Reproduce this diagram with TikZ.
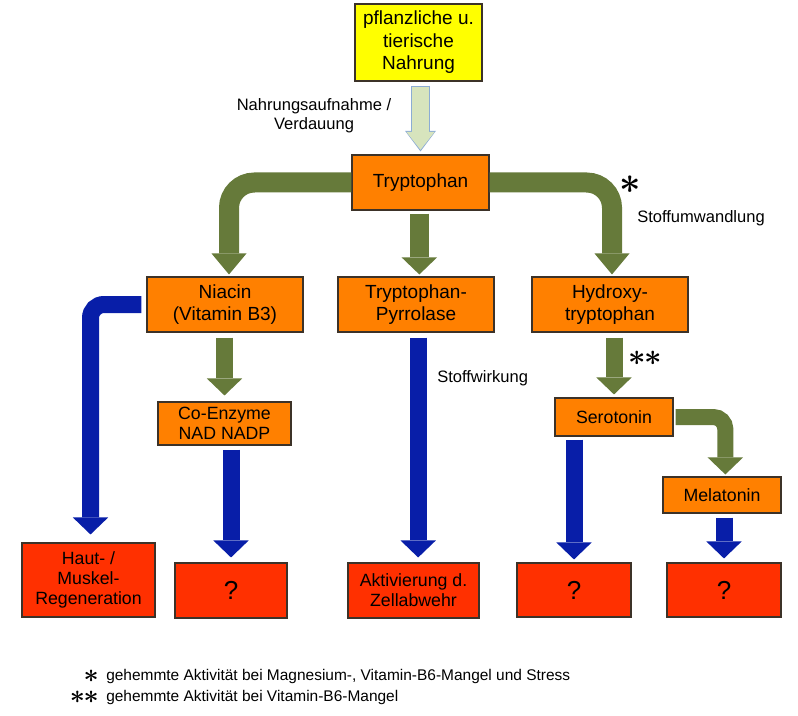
\documentclass[tikz,border=0pt]{standalone}
\usepackage{bm}
\usepackage{fontspec}
\setmainfont{Liberation Sans}
\usetikzlibrary{arrows.meta}

\definecolor{foodyellow}{RGB}{255,255,0}
\definecolor{boxorange}{RGB}{255,128,0}
\definecolor{boxred}{RGB}{255,48,0}
\definecolor{arrowgreen}{RGB}{102,122,58}
\definecolor{arrowblue}{RGB}{8,30,168}
\definecolor{palegreen}{RGB}{215,228,189}
\definecolor{paleblue}{RGB}{140,172,212}
\definecolor{boxline}{RGB}{60,50,40}

\newcommand\bigtxt{\fontsize{14.25pt}{16.9pt}\selectfont}
\newcommand\smalltxt{\fontsize{13.3pt}{15pt}\selectfont}
\newcommand\lbltxt{\fontsize{12.4pt}{14pt}\selectfont}
\newcommand\foottxt{\fontsize{11.6pt}{14pt}\selectfont}
\newcommand\qtxt{\fontsize{19.5pt}{20pt}\selectfont}
\newcommand\markstar[1]{\scalebox{#1}{\huge$\bm{\ast}$}}

\tikzset{
  box/.style={draw=boxline, line width=0.8pt, inner sep=0pt, align=center},
  orangebox/.style={box, fill=boxorange},
  redbox/.style={box, fill=boxred},
  lbl/.style={inner sep=0pt, font=\lbltxt, align=center},
  starmark/.style={inner sep=0pt, text depth=0pt, text height=#1},
  greenarrow/.style={draw=arrowgreen},
  bluearrow/.style={draw=arrowblue},
  bigarrow/.style={line width=15pt, -{Triangle[length=15.75pt,width=26.25pt,line width=0pt]}},
  fatarrow/.style={line width=12.75pt, -{Triangle[length=12.75pt,width=26.5pt,line width=0pt]}}
}

\begin{document}
\begin{tikzpicture}[x=0.75pt,y=0.75pt,yscale=-1,xscale=1]
\useasboundingbox (0,0) rectangle (798,716);

%Shape: Rectangle [food]
\node[box, fill=foodyellow, font=\bigtxt, minimum width=95.25pt, minimum height=57.75pt] (food) at (418.5,42.5) {pflanzliche u.\\tierische\\Nahrung};
%Shape: Rectangle [first row]
\node[orangebox, font=\bigtxt, minimum width=102.75pt, minimum height=41.25pt] (tryp) at (420.5,182.5) {Tryptophan};
\node[orangebox, font=\bigtxt, minimum width=117pt, minimum height=41.25pt] (niacin) at (225,304.5) {Niacin\\(Vitamin B3)};
\node[orangebox, font=\bigtxt, minimum width=117pt, minimum height=41.25pt] (pyrrol) at (416,304.5) {Tryptophan-\\Pyrrolase};
\node[orangebox, font=\bigtxt, minimum width=117pt, minimum height=41.25pt] (hydroxy) at (610,304.5) {Hydroxy-\\tryptophan};
%Shape: Rectangle [second row]
\node[orangebox, font=\smalltxt, minimum width=99.75pt, minimum height=32.25pt] (coenz) at (224.5,423.5) {Co-Enzyme\\NAD NADP};
\node[orangebox, font=\smalltxt, minimum width=88.5pt, minimum height=28.5pt] (sero) at (614,417) {Serotonin};
\node[orangebox, font=\smalltxt, minimum width=88.5pt, minimum height=27pt] (mela) at (722,495) {Melatonin};
%Shape: Rectangle [effects]
\node[redbox, font=\smalltxt, minimum width=99.75pt, minimum height=55.5pt] (haut) at (88.5,580) {Haut- /\\Muskel-\\Regeneration};
\node[redbox, font=\qtxt, minimum width=84pt, minimum height=41.25pt] (qnad) at (231,590.5) {?};
\node[redbox, font=\smalltxt, minimum width=98.25pt, minimum height=41.25pt] (aktiv) at (413.5,590.5) {Aktivierung d.\\Zellabwehr};
\node[redbox, font=\qtxt, minimum width=85.5pt, minimum height=40.5pt] (qsero) at (574,590) {?};
\node[redbox, font=\qtxt, minimum width=85.5pt, minimum height=40.5pt] (qmela) at (724,590) {?};

%Arrow: intake
\draw[paleblue, line width=14.25pt, -{Triangle[length=15.5pt,width=23.25pt,line width=0pt]}, shorten <=3pt, shorten >=2.25pt] (tryp.north |- food.south) -- (tryp.north);
\draw[palegreen, line width=12.75pt, -{Triangle[length=13.5pt,width=21.25pt,line width=0pt]}, shorten <=3.75pt, shorten >=3.5pt] (tryp.north |- food.south) -- (tryp.north);

%Arrows: conversion (green)
\draw[greenarrow, bigarrow, rounded corners=19pt, shorten >=1.5pt] (tryp.west) -| ([xshift=3pt]niacin.north);
\draw[greenarrow, bigarrow, rounded corners=19pt, shorten >=1.5pt] (tryp.east) -| ([xshift=1.5pt]hydroxy.north);
\draw[greenarrow, fatarrow, line width=14.25pt, shorten <=2.25pt, shorten >=1.5pt] ([xshift=2.5pt]pyrrol.north |- tryp.south) -- ([xshift=2.5pt]pyrrol.north);
\draw[greenarrow, fatarrow, shorten <=3.75pt, shorten >=4.5pt] (coenz.north |- niacin.south) -- (coenz.north);
\draw[greenarrow, fatarrow, shorten <=3.75pt, shorten >=2.25pt] (sero.north |- hydroxy.south) -- (sero.north);
\draw[greenarrow, fatarrow, line width=12pt, rounded corners=9pt, shorten <=1.5pt, shorten >=1.5pt] (sero.east) -| ([xshift=2.5pt]mela.north);

%Arrows: effect (blue)
\draw[bluearrow, fatarrow, rounded corners=10pt, shorten <=3.75pt, shorten >=6pt] (niacin.west) -| ([xshift=1.5pt]haut.north);
\draw[bluearrow, fatarrow, shorten <=3pt, shorten >=3.75pt] (qnad.north |- coenz.south) -- (qnad.north);
\draw[bluearrow, fatarrow, shorten <=3.75pt, shorten >=3.75pt] ([xshift=3.5pt]aktiv.north |- pyrrol.south) -- ([xshift=3.5pt]aktiv.north);
\draw[bluearrow, fatarrow, shorten <=2.25pt, shorten >=2.25pt] (qsero.north |- sero.south) -- (qsero.north);
\draw[bluearrow, fatarrow, shorten <=3pt, shorten >=3pt] (qmela.north |- mela.south) -- (qmela.north);

% Text Node
\node[lbl] (intake) at (314,116) {Nahrungsaufnahme /\\Verdauung};
% Text Node
\node[lbl, anchor=west] (conv) at (637,218) {Stoffumwandlung};
% Text Node
\node[lbl, anchor=west] (effect) at (437,378) {Stoffwirkung};
% Text Node
\node[starmark=16.8pt] (convstar) at (630,182) {\markstar{1.35}};
% Text Node
\node[starmark=13.7pt] (b6star) at (645,356) {\markstar{1.1}\hspace{-1.5pt}\markstar{1.1}};

% Footnotes
\node[starmark=11.8pt, anchor=east] (fnstar) at (99,675) {\markstar{0.95}};
\node[starmark=11.8pt, anchor=east] (fnstars) at (99,696) {\markstar{0.95}\hspace{-1pt}\markstar{0.95}};
\node[inner sep=0pt, anchor=west, font=\foottxt] (fnmg) at (106,676) {gehemmte Aktivität bei Magnesium-, Vitamin-B6-Mangel und Stress};
\node[inner sep=0pt, anchor=west, font=\foottxt] (fnbsix) at (106,697) {gehemmte Aktivität bei Vitamin-B6-Mangel};

\end{tikzpicture}
\end{document}
